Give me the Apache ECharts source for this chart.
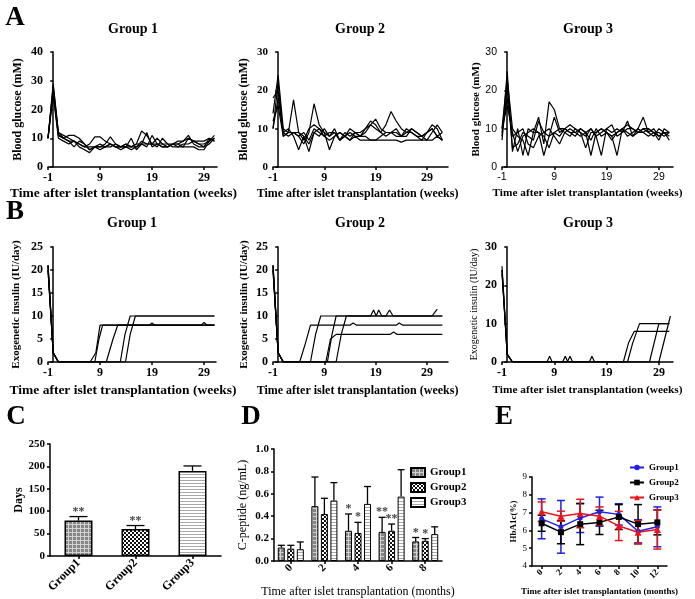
<!DOCTYPE html>
<html><head><meta charset="utf-8">
<script src="https://cdn.jsdelivr.net/npm/echarts@6/dist/echarts.min.js"></script>
<style>html,body{margin:0;padding:0;background:#fff}#c{width:695px;height:599px}</style>
</head><body><div id="c"></div>
<script>
// ---------- DATA ----------
const weekTicks = [-1, 9, 19, 29];
const weeksA = [-1,0,1,2,3,4,5,6,7,8,9,10,11,12,13,14,15,16,17,18,19,20,21,22,23,24,25,26,27,28,29,30,31];
const weeksA2 = [-1,0,1,2,3,4,5,6,7,8,9,10,11,12,13,14,15,16,17,18,19,20,21,22,23,24,25,26,27,28,29,30,31,32];
// Panel A, Group 1 blood glucose (mM)
const a1L1 = [10,29,12,11,10,9,8,7,8,10.5,10.5,9,8,7,7,8,7,8,12.5,11,8,10,8,7,8,9,9,10,9,8,8,9,10];
const a1L2 = [10,27,11,10,11,11,10,8,6,7,7,8,10.5,8,7,7,10,6,8,7,11,8,7,7,8,8,9,11,8,7,7,10,9];
const a1L3 = [10,25,10,9,8,9,7,6,5,7,7,7,8,7,7,8,7,7,9,8,8,8,8,8,8,7,8,8,9,9,9,10,9];
const a1L4 = [10,28,12,10,9,7,9,8,6,7,8,7,8,7,6,7,7,8,8,12,7,8,7,7,8,8,7,7,7,6,6,9,11];
const a1L5 = [10,26,11,10,9,9,8,7,7,7,6,7,7,8,7,7,6,7,8,8,8,7,10,8,7,7,7,10,9,8,7,8,10];
// Panel A, Group 2
const a2L1 = [14,24,10,9,17.5,9,8,6,9,8,10,8,9,7,8,9,8,8,9,11,12.5,10,9,9,8,8,9,10,9,8,7,9,11,9];
const a2L2 = [10,22,8,9,9,8,6,9,16.5,11,9,8,10,7,9,8,9,8,10,11,10,9,11,14.5,12,10,9,9,8,8,9,10,8,7];
const a2L3 = [18,20,9,10,8,4.5,8,4,9,10,9,4.5,8,9,8,7,9,8,8,7,7,8,9,9,10,8,8,10,9,8,9,11,10,7];
const a2L4 = [10,18,9,8,9,8,9,7,10,9,8,7,8,9,8,7,8,7,7,7,7,7,7,7,7,6.5,7,7,7,7,7,7,8,7];
const a2L5 = [12,16,8,9,9,9,7,10,11,10,8,9,9,7,8,10,9,9,10,12,11,9,8,9,9,8,10,9,8,7,9,10,8,9];
// Panel A, Group 3
const a3L1 = [8,25,4,10,3,10,9,13,6,17,15,10,9,10,9,8,9,3,9,10,9,8,9,10,11,10,9,10,10,9,9,8,9];
const a3L2 = [10,23,10,8,7,3,9,9,3,8,13,9,10,11,10,9,8,10,8,3,10,11,8,9,12,8,10,13,9,10,8,9,8];
const a3L3 = [7,21,5,6,9,8,7,12,9,8,9,10,10,9,8,10,9,7,10,8,9,8,3,10,9,8,9,10,9,8,10,9,7];
const a3L4 = [9,18,8,9,10,6,5,8,9,10,8,6,9,8,10,9,5,9,9,10,9,7,9,10,8,9,10,9,8,9,7,10,9];
const a3L5 = [10,16,9,4,8,9,10,9,8,5,9,8,10,9,9,10,9,10,8,9,10,9,10,9,10,10,9,9,10,9,8,9,9];
// Panel B, exogenous insulin [week, IU/day]
const b1L1 = [[-1,21],[0,2],[1,0],[7.1,0],[8.2,2],[9,8],[18.5,8],[19,8.5],[19.5,8],[28.5,8],[29,8.6],[29.6,8],[31,8]];
const b1L2 = [[-1,20],[0,2],[1,0],[8,0],[8.8,5],[9.5,8],[31,8]];
const b1L3 = [[-1,21],[0,2],[1,0],[10.2,0],[11.5,5],[12.4,8],[31,8]];
const b1L4 = [[-1,20],[0,2],[1,0],[12.9,0],[13.8,6],[14.8,10],[31,10]];
const b1L5 = [[-1,21],[0,2],[1,0],[13.9,0],[14.8,6],[15.8,10],[31,10]];
const b2L1 = [[-1,21],[0,2],[1,0],[4.2,0],[5.3,4],[6.3,8],[14,8],[14.6,8.5],[15.3,8],[23,8],[23.6,8.5],[24.3,8],[32,8]];
const b2L2 = [[-1,21],[0,2],[1,0],[6.3,0],[7.3,6],[8.3,10],[18,10],[18.6,11.3],[19.1,10],[19.6,11.3],[20.2,10],[21,10],[21.7,11.3],[22.4,10],[30,10],[31,11.5]];
const b2L3 = [[-1,20],[0,2],[1,0],[9.3,0],[10.2,5],[11.3,6],[21.8,6],[22.5,6.5],[23.2,6],[32,6]];
const b2L4 = [[-1,21],[0,2],[1,0],[9.6,0],[10.5,6],[11.3,10],[32,10]];
const b2L5 = [[-1,20],[0,2],[1,0],[11.3,0],[12.3,6],[13.3,10],[32,10]];
const b3L1 = [[-1,25],[0,2],[1,0],[7.6,0],[8.1,1.5],[8.6,0],[22.2,0],[23.2,5],[24.3,8],[31,8]];
const b3L2 = [[-1,24],[0,2],[1,0],[10.6,0],[11.1,1.5],[11.6,0],[23,0],[24,5],[25.3,10],[31,10]];
const b3L3 = [[-1,23],[0,2],[1,0],[11.5,0],[12,1.5],[12.5,0],[27.2,0],[29,10],[31,10]];
const b3L4 = [[-1,24],[0,2],[1,0],[15.7,0],[16.2,1.5],[16.7,0],[29,0],[31.2,12]];
// Panel C
const cCats = ['Group1','Group2','Group3'];
const cDays = [79, 60, 190];
const cErr = [9, 8, 11];
const cStars = ['**','**',''];
// Panel D
const dCats = ['0','2','4','6','8'];
const dG1 = [0.12,0.49,0.27,0.26,0.175];
const dG1Sd = [0.02,0.26,0.15,0.13,0.035];
const dG2 = [0.11,0.42,0.25,0.27,0.18];
const dG2Sd = [0.03,0.14,0.095,0.06,0.02];
const dG3 = [0.105,0.54,0.51,0.575,0.24];
const dG3Sd = [0.065,0.16,0.155,0.24,0.065];
const dG1Stars = ['','','*','**','*'];
const dG2Stars = ['','','*','**','*'];
// Panel E
const eCats = ['0','2','4','6','8','10','12'];
const eG1 = [6.65,6.2,6.7,7.05,6.9,5.95,6.2];
const eG1Sd = [1.12,1.48,0.82,0.82,0.6,0.65,1.12];
const eG2 = [6.4,5.9,6.35,6.45,6.75,6.35,6.45];
const eG2Sd = [0.45,0.65,1.15,0.68,0.7,1.1,0.7];
const eG3 = [7.05,6.8,6.95,6.8,6.25,5.9,6.05];
const eG3Sd = [0.55,0.28,0.8,0.52,0.82,0.65,1.1];

// ---------- STYLE HELPERS ----------
const SERIF = '"Liberation Serif","Times New Roman",serif';
const SANS = '"Liberation Sans",Arial,sans-serif';
const nameWeeks = 'Time after islet transplantation (weeks)';
const nameMonths = 'Time after islet transplantation (months)';
const AX = {color:'#000', width:1.5};

function pat(w, h, draw){ const c=document.createElement('canvas'); c.width=w; c.height=h; draw(c.getContext('2d')); return {image:c, repeat:'repeat'}; }
const patG1 = pat(4,4,g=>{g.fillStyle='#858585';g.fillRect(0,0,4,4);g.fillStyle='#d2d2d2';g.fillRect(0,0,4,1);g.fillRect(0,0,1,4);});
const patG2 = pat(4,4,g=>{g.fillStyle='#fff';g.fillRect(0,0,4,4);g.fillStyle='#111';g.fillRect(0,0,2,2);g.fillRect(2,2,2,2);});
const patG3 = pat(2,3,g=>{g.fillStyle='#fff';g.fillRect(0,0,2,3);g.fillStyle='#a8a8a8';g.fillRect(0,0,2,1);});

function wkX(gi, max, font, lbl, nsz, weight, gap, shift){
  return {type:'value', gridIndex:gi, min:-1, max:max, interval:10,
    axisLine:{show:true, onZero:false, lineStyle:AX},
    axisTick:{show:true, customValues:weekTicks, length:3, lineStyle:AX},
    axisLabel:{customValues:weekTicks, color:'#000', fontFamily:font, fontWeight:weight, fontSize:lbl, margin:5},
    splitLine:{show:false},
    name:nameWeeks, nameLocation:'middle', nameGap:gap,
    nameTextStyle:{color:'#000', fontFamily:SERIF, fontWeight:'bold', fontSize:nsz, padding:[0, shift||0, 0, 0]}};
}
function valY(gi, min, max, itv, name, font, lbl, weight, nsz, nweight, gap, fmt){
  return {type:'value', gridIndex:gi, min:min, max:max, interval:itv,
    axisLine:{show:true, lineStyle:AX},
    axisTick:{show:true, length:3, lineStyle:AX},
    axisLabel:{color:'#000', fontFamily:font, fontWeight:weight, fontSize:lbl, margin:5, formatter:fmt},
    splitLine:{show:false},
    name:name, nameLocation:'middle', nameGap:gap,
    nameTextStyle:{color:'#000', fontFamily:SERIF, fontWeight:nweight, fontSize:nsz}};
}
function catX(gi, cats, lbl, rot, name, nsz, nweight, gap){
  return {type:'category', gridIndex:gi, data:cats, boundaryGap:true,
    axisLine:{show:true, lineStyle:AX},
    axisTick:{show:true, alignWithLabel:true, length:3, lineStyle:AX},
    axisLabel:{color:'#000', fontFamily:SERIF, fontWeight:'bold', fontSize:lbl, rotate:rot, margin:5},
    splitLine:{show:false},
    name:name, nameLocation:'middle', nameGap:gap,
    nameTextStyle:{color:'#000', fontFamily:SERIF, fontWeight:nweight, fontSize:nsz}};
}
function lineS(gi, data){
  return {type:'line', xAxisIndex:gi, yAxisIndex:gi, data:data, showSymbol:false, silent:true,
    lineStyle:{color:'#000', width:1.2}, itemStyle:{color:'#000'}};
}
function pairs(xs, ys){ return ys.map((v,i)=>[xs[i], v]); }

// error bars (upward only, with stars) for bar charts
function upErr(gi, means, sds, offset, stars, cap){
  return {type:'custom', xAxisIndex:gi, yAxisIndex:gi, silent:true, z:5,
    data: means.map((m,i)=>[i, m, sds[i]]),
    renderItem:function(p, api){
      const i=api.value(0), m=api.value(1), e=api.value(2);
      const a=api.coord([i,m]), b=api.coord([i,m+e]);
      const x=a[0]+offset;
      const ch=[
        {type:'line', shape:{x1:x,y1:a[1],x2:x,y2:b[1]}, style:{stroke:'#000', lineWidth:1.3}},
        {type:'line', shape:{x1:x-cap,y1:b[1],x2:x+cap,y2:b[1]}, style:{stroke:'#000', lineWidth:1.3}}
      ];
      const s = stars ? stars[p.dataIndex] : '';
      if (s) ch.push({type:'text', style:{text:s, x:x, y:b[1]+1, textAlign:'center', textVerticalAlign:'bottom',
        font:'bold 12px '+SERIF, fill:'#444'}});
      return {type:'group', children:ch};
    }};
}
// symmetric error bars for panel E
function symErr(gi, means, sds, color){
  return {type:'custom', xAxisIndex:gi, yAxisIndex:gi, silent:true, z:3,
    data: means.map((m,i)=>[i, m-sds[i], m+sds[i]]),
    renderItem:function(p, api){
      const lo=api.coord([api.value(0), api.value(1)]), hi=api.coord([api.value(0), api.value(2)]);
      const x=lo[0], c=4, st={stroke:color, lineWidth:1.5};
      return {type:'group', children:[
        {type:'line', shape:{x1:x,y1:lo[1],x2:x,y2:hi[1]}, style:st},
        {type:'line', shape:{x1:x-c,y1:lo[1],x2:x+c,y2:lo[1]}, style:st},
        {type:'line', shape:{x1:x-c,y1:hi[1],x2:x+c,y2:hi[1]}, style:st}
      ]};
    }};
}
function txt(t, x, y, size, weight, font){
  return {type:'text', x:x, y:y, style:{text:t, textAlign:'center', textVerticalAlign:'middle',
    font:(weight||'bold')+' '+size+'px '+(font||SERIF), fill:'#000'}};
}

// ---------- OPTION ----------
const grids = [
  {left:48, top:52, width:169, height:115},
  {left:273, top:52, width:175, height:115},
  {left:502, top:52, width:171, height:115},
  {left:48, top:247, width:168, height:115},
  {left:273, top:247, width:175, height:115},
  {left:502, top:247, width:171, height:115},
  {left:50, top:444, width:171, height:112},
  {left:274, top:449, width:168, height:112},
  {left:532, top:477, width:135, height:89}
];

const xAxes = [
  wkX(0, 31.5, SERIF, 12, 13.5, 'bold', 20, 18),
  wkX(1, 33.1, SERIF, 12, 12, 'bold', 21, 6),
  wkX(2, 31.7, SANS, 10.5, 11.3, 'normal', 21, 0),
  wkX(3, 31.3, SERIF, 12, 13.5, 'bold', 22, 18),
  wkX(4, 33.1, SERIF, 12, 12, 'bold', 23, 6),
  wkX(5, 31.7, SERIF, 12, 11.3, 'bold', 23, 0),
  catX(6, cCats, 12, 45, '', 12, 'bold', 30),
  catX(7, dCats, 11, 45, nameMonths, 12, 'normal', 25),
  catX(8, eCats, 9, 45, nameMonths, 9, 'bold', 21)
];
const yAxes = [
  valY(0, 0, 40, 10, 'Blood glucose (mM)', SERIF, 12, 'bold', 12, 'bold', 24),
  valY(1, 0, 30, 10, 'Blood glucose (mM)', SERIF, 11, 'bold', 12, 'bold', 23),
  valY(2, 0, 30, 10, 'Blood glucose (mM)', SANS, 10.5, 'normal', 11, 'bold', 20),
  valY(3, 0, 25, 5, 'Exogenetic insulin (IU/day)', SERIF, 12, 'bold', 11, 'bold', 26),
  valY(4, 0, 25, 5, 'Exogenetic insulin (IU/day)', SERIF, 12, 'bold', 11, 'bold', 23),
  valY(5, 0, 30, 10, 'Exogenetic insulin (IU/day)', SERIF, 12, 'bold', 10, 'normal', 23),
  valY(6, 0, 250, 50, 'Days', SERIF, 11, 'bold', 12, 'bold', 21),
  valY(7, 0, 1, 0.2, 'C-peptide (ng/mL)', SERIF, 11, 'bold', 12, 'normal', 25, v=>v.toFixed(1)),
  valY(8, 4, 9, 1, 'HbA1c(%)', SERIF, 9, 'normal', 9, 'bold', 9)
];

const series = [];
[a1L1,a1L2,a1L3,a1L4,a1L5].forEach(d=>series.push(lineS(0, pairs(weeksA, d))));
[a2L1,a2L2,a2L3,a2L4,a2L5].forEach(d=>series.push(lineS(1, pairs(weeksA2, d))));
[a3L1,a3L2,a3L3,a3L4,a3L5].forEach(d=>series.push(lineS(2, pairs(weeksA, d))));
[b1L1,b1L2,b1L3,b1L4,b1L5].forEach(d=>series.push(lineS(3, d)));
[b2L1,b2L2,b2L3,b2L4,b2L5].forEach(d=>series.push(lineS(4, d)));
[b3L1,b3L2,b3L3,b3L4].forEach(d=>series.push(lineS(5, d)));

// C
const cPats = [patG1, patG2, patG3];
series.push({type:'bar', name:'Days', xAxisIndex:6, yAxisIndex:6, barWidth:28, silent:true,
  data:cDays.map((v,i)=>({value:v, itemStyle:{color:cPats[i], borderColor:'#000', borderWidth:1.5}}))});
series.push(upErr(6, cDays, cErr, 0, cStars, 9));

// D
const dSty = (p)=>({color:p, borderColor:'#000', borderWidth:1});
series.push({type:'bar', name:'Group1', xAxisIndex:7, yAxisIndex:7, barWidth:7, barGap:'36%', silent:true, data:dG1, itemStyle:dSty(patG1)});
series.push({type:'bar', name:'Group2', xAxisIndex:7, yAxisIndex:7, barWidth:7, barGap:'36%', silent:true, data:dG2, itemStyle:dSty(patG2)});
series.push({type:'bar', name:'Group3', xAxisIndex:7, yAxisIndex:7, barWidth:7, barGap:'36%', silent:true, data:dG3, itemStyle:dSty(patG3)});
series.push(upErr(7, dG1, dG1Sd, -9.5, dG1Stars, 3.5));
series.push(upErr(7, dG2, dG2Sd, 0, dG2Stars, 3.5));
series.push(upErr(7, dG3, dG3Sd, 9.5, null, 3.5));

// E
const eCol = ['#1f1fe6','#000000','#e8141a'];
series.push(symErr(8, eG1, eG1Sd, eCol[0]));
series.push(symErr(8, eG2, eG2Sd, eCol[1]));
series.push(symErr(8, eG3, eG3Sd, eCol[2]));
series.push({type:'line', name:'E Group1', xAxisIndex:8, yAxisIndex:8, data:eG1, symbol:'circle', symbolSize:5, silent:true, z:4,
  lineStyle:{color:eCol[0], width:1.5}, itemStyle:{color:eCol[0]}});
series.push({type:'line', name:'E Group2', xAxisIndex:8, yAxisIndex:8, data:eG2, symbol:'rect', symbolSize:6, silent:true, z:4,
  lineStyle:{color:eCol[1], width:1.5}, itemStyle:{color:eCol[1]}});
series.push({type:'line', name:'E Group3', xAxisIndex:8, yAxisIndex:8, data:eG3, symbol:'triangle', symbolSize:7, silent:true, z:4,
  lineStyle:{color:eCol[2], width:1.5}, itemStyle:{color:eCol[2]}});

const option = {
  animation:false,
  backgroundColor:'#fff',
  grid:grids,
  xAxis:xAxes,
  yAxis:yAxes,
  series:series,
  legend:[
    {data:['Group1','Group2','Group3'], orient:'vertical', left:405, top:462, itemWidth:14, itemHeight:9, itemGap:4,
     selectedMode:false, icon:'rect', textStyle:{color:'#000', fontFamily:SERIF, fontWeight:'bold', fontSize:11}},
    {data:['E Group1','E Group2','E Group3'], orient:'vertical', left:624, top:458, itemWidth:14, itemHeight:7, itemGap:6,
     selectedMode:false, formatter:n=>n.replace('E ',''), textStyle:{color:'#000', fontFamily:SERIF, fontWeight:'bold', fontSize:9}}
  ],
  graphic:[
    txt('A', 15, 18, 27), txt('B', 15, 212, 27), txt('C', 16, 417, 27), txt('D', 251, 417, 27), txt('E', 504, 417, 27),
    txt('Group 1', 133, 29, 14), txt('Group 2', 360, 29, 14), txt('Group 3', 588, 29, 14),
    txt('Group 1', 132, 223, 14), txt('Group 2', 360, 223, 14), txt('Group 3', 588, 223, 14)
  ]
};
const chart = echarts.init(document.getElementById('c'));
chart.setOption(option);
</script>
</body></html>
